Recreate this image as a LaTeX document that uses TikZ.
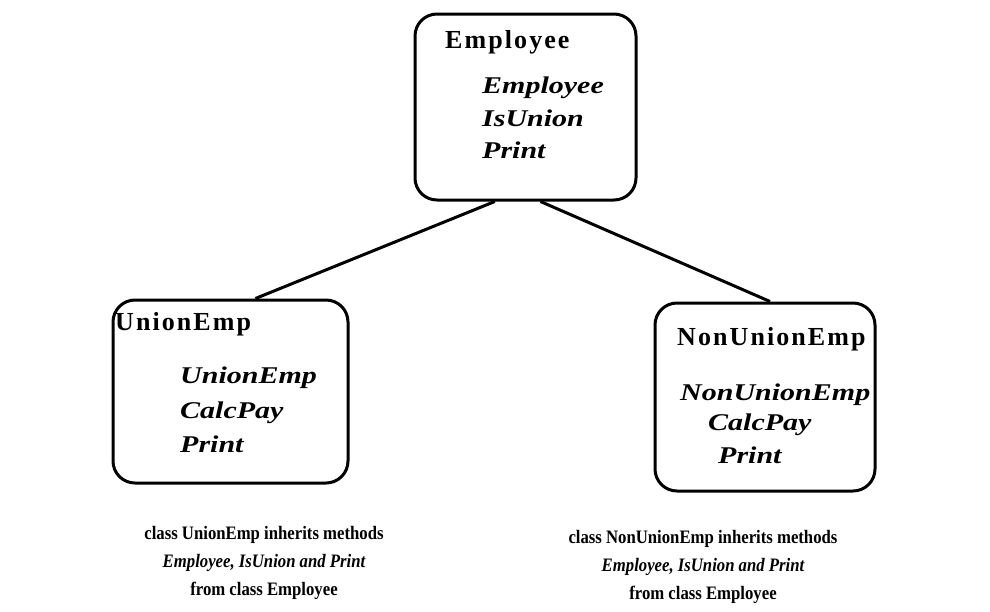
\documentclass[tikz,border=0pt]{standalone}
\usepackage{fontspec}
\setmainfont{Liberation Serif}
\newfontfamily\headfont{Liberation Serif}[LetterSpace=8]
\newfontfamily\methfont{Liberation Serif}[FakeStretch=1.25]
\newfontfamily\notefont{Liberation Serif}[FakeStretch=0.88]
\usetikzlibrary{positioning}
\tikzset{
  classbox/.style={draw, line width=3pt, rounded corners=22pt, inner sep=0pt},
  classname/.style={anchor=base west, inner sep=0pt,
    font=\headfont\fontsize{26}{30}\selectfont\bfseries},
  method/.style={anchor=base west, inner sep=0pt,
    font=\methfont\fontsize{24}{28}\selectfont\bfseries\itshape},
  % anchor=base sits on the last line of the note
  note/.style={anchor=base, align=center, inner sep=0pt,
    font=\notefont\fontsize{19}{28}\selectfont\bfseries},
  link/.style={line width=3pt}
}

\begin{document}
\begin{tikzpicture}[x=1pt,y=-1pt]
  \useasboundingbox (0,0) rectangle (990,611);
  % the three classes
  \node[classbox, minimum width=221pt, minimum height=186pt] (emp) at (525.5,107) {};
  \node[classbox, minimum width=235pt, minimum height=183pt] (uemp) at (230.5,391.5) {};
  \node[classbox, minimum width=220pt, minimum height=188pt] (nemp) at (765,397) {};
  % names and methods
  \node[classname] (empT) at (445,48) {Employee};
  \foreach \m/\b [count=\i] in {Employee/93, IsUnion/126, Print/158}
    \node[method] (empM\i) at (482,\b) {\m};
  \node[classname] (uempT) at (115,330) {UnionEmp};
  \foreach \m/\b [count=\i] in {UnionEmp/383, CalcPay/418, Print/452}
    \node[method] (uempM\i) at (180,\b) {\m};
  \node[classname] (nempT) at (677,345) {NonUnionEmp};
  \node[method] (nempM1) at (680,400) {NonUnionEmp};
  \node[method] (nempM2) at (708,430) {CalcPay};
  \node[method] (nempM3) at (718,463) {Print};
  % inheritance
  \draw[link] (emp.252) -- (uemp.75);
  \draw[link] (emp.279) -- (nemp.87);
  % notes under the subclasses
  \node[note] (uNote) at (264,595) {class UnionEmp inherits methods\\
    {\itshape Employee, IsUnion and Print}\\ from class Employee};
  \node[note] (nNote) at (703,599) {class NonUnionEmp inherits methods\\
    {\itshape Employee, IsUnion and Print}\\ from class Employee};
\end{tikzpicture}
\end{document}
